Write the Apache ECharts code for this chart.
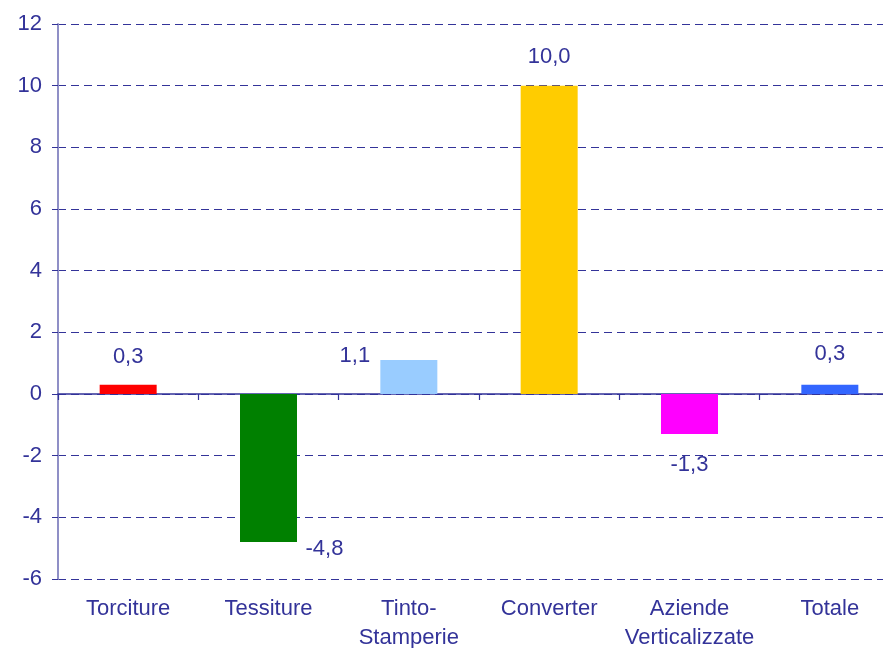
<!DOCTYPE html>
<html>
<head>
<meta charset="utf-8">
<script src="https://cdn.jsdelivr.net/npm/echarts@6/dist/echarts.min.js"></script>
<style>
  html, body { margin: 0; padding: 0; background: #fff; overflow: hidden; }
  #chart { width: 883px; height: 648px; }
</style>
</head>
<body>
<div id="chart"></div>
<script>
// dati
const categories = ['Torciture', 'Tessiture', 'Tinto-\nStamperie', 'Converter', 'Aziende\nVerticalizzate', 'Totale']
const values = [0.3, -4.8, 1.1, 10.0, -1.3, 0.3]
const barColors = ['#ff0000', '#008000', '#99ccff', '#ffcc00', '#ff00ff', '#3366ff']

// posizione etichette (stile Excel)
const labelPlace = [
    { distance: 17, offset: [0, 0] },
    { distance: 0, offset: [56, -4] },
    { distance: 0, offset: [-54, 7] },
    { distance: 18, offset: [0, 0] },
    { distance: 20, offset: [0, 0] },
    { distance: 20, offset: [0, 0] },
]

const blue = '#333399'
const font = 'Liberation Sans, Arial, sans-serif'

const draw = (dom, option) => {
    const chart = echarts.init(dom)
    chart.clear()
    chart.setOption(option)
    return chart
}

draw(document.getElementById('chart'), {
    animation: false,
    grid: { left: 58, top: 24, width: 842, height: 555, outerBoundsMode: 'none', containLabel: false },
    xAxis: [
        {
            type: 'category',
            data: categories,
            position: 'bottom',
            axisLine: { show: false, onZero: false },
            axisTick: { show: false },
            axisLabel: {
                color: blue, fontFamily: font, fontSize: 22, lineHeight: 29,
                margin: 15, interval: 0
            },
            splitLine: { show: false }
        },
        {
            type: 'category',
            data: categories,
            position: 'bottom',
            axisLine: { show: true, onZero: true, lineStyle: { color: blue, width: 1.5 } },
            axisTick: { show: true, length: 6, lineStyle: { color: blue, width: 1.2 } },
            axisLabel: { show: false },
            splitLine: { show: false }
        }
    ],
    yAxis: {
        type: 'value',
        min: -6,
        max: 12,
        interval: 2,
        axisLine: { show: true, lineStyle: { color: '#8f8fc6', width: 2 } },
        axisTick: { show: true, length: 6, lineStyle: { color: blue } },
        axisLabel: { color: blue, fontFamily: font, fontSize: 22, margin: 16 },
        splitLine: { show: true, lineStyle: { color: blue, type: [8, 5], width: 1 } }
    },
    series: [{
        type: 'bar',
        xAxisIndex: 0,
        barWidth: 57,
        data: values.map((v, i) => ({
            value: v,
            itemStyle: { color: barColors[i] },
            label: {
                show: true,
                position: 'outside',
                distance: labelPlace[i].distance,
                offset: labelPlace[i].offset,
                color: blue,
                fontFamily: font,
                fontSize: 22,
                formatter: p => p.value.toFixed(1).replace('.', ',')
            }
        }))
    }]
})
</script>
</body>
</html>
